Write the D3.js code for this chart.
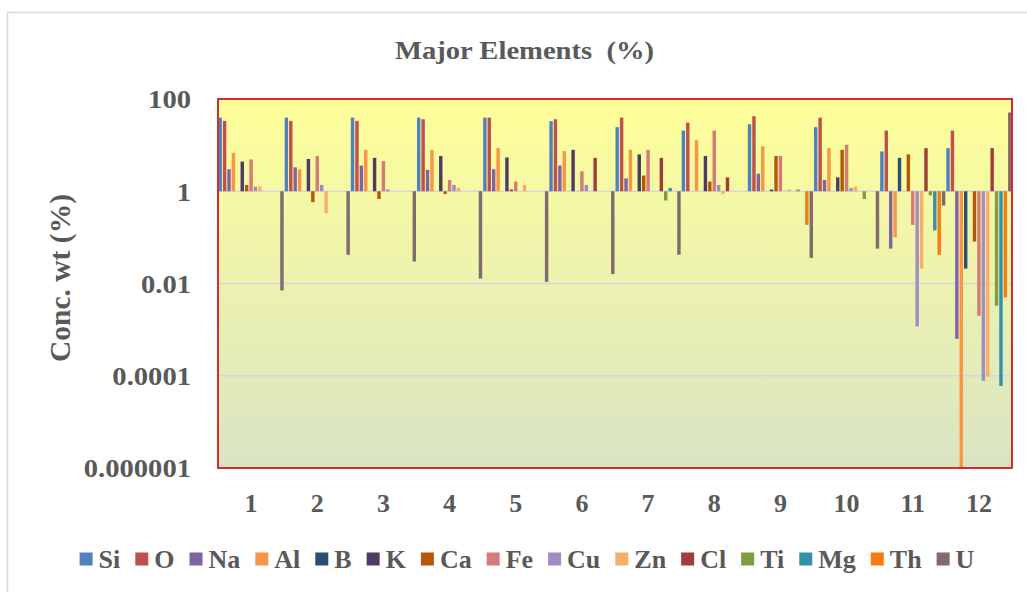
<!DOCTYPE html>
<html>
<head>
<meta charset="utf-8">
<script src="https://cdn.jsdelivr.net/npm/d3@7"></script>
<style>
  body { margin: 0; background: #fff; }
  svg { display: block; }
  text { font-family: "Liberation Serif", "Times New Roman", serif; font-weight: bold; fill: #595959; }
</style>
</head>
<body>
<svg id="chart" width="1027" height="592"></svg>
<script>
// Sample numbers on the category axis
const samples = ["1", "2", "3", "4", "5", "6", "7", "8", "9", "10", "11", "12"];

// Element names (series) and their fill colours
const elements = ["Si", "O", "Na", "Al", "B", "K", "Ca", "Fe", "Cu", "Zn", "Cl", "Ti", "Mg", "Th", "U"];
const colors = ["#4F81BD", "#C0504D", "#8064A2", "#F79646", "#2C4D75", "#4D3B62", "#B65708",
                "#D47A78", "#A08CC2", "#F9AD6A", "#A03C3B", "#7F9D41", "#3590AA", "#F57B12", "#7F6A6E"];

// Concentrations, wt %, per sample (null = not reported)
const Si = [39.5, 39.5, 39.5, 39.5, 39.5, 33.0, 24.5, 20.7, 28.4, 24.5, 7.3, 8.6];
const O  = [33.5, 33.5, 33.5, 36.4, 39.5, 36.4, 39.5, 30.8, 42.3, 39.5, 20.7, 20.7];
const Na = [3.0, 3.3, 3.6, 2.9, 3.0, 3.6, 1.9, null, 2.4, 1.76, 0.057, 0.00063];
const Al = [6.8, 3.0, 7.9, 7.9, 8.6, 7.4, 7.9, 12.8, 9.4, 8.6, 0.10, 0.000001];
const B  = [null, null, null, null, null, null, null, null, null, null, 5.3, 0.021];
const K  = [4.4, 5.0, 5.3, 5.8, 5.4, 7.9, 6.3, 5.8, 1.09, 2.0, null, null];
const Ca = [1.37, 0.58, 0.68, 0.875, 1.10, null, 2.2, 1.62, 5.8, 7.9, 6.3, 0.081];
const Fe = [4.9, 5.8, 4.5, 1.76, 1.62, 2.7, 7.9, 20.7, 5.8, 10.2, 0.187, 0.002];
const Cu = [1.26, 1.37, 1.09, 1.37, null, 1.37, null, 1.37, null, 1.18, 0.00117, 0.000078];
const Zn = [1.26, 0.335, null, 1.18, 1.37, null, null, 0.875, 1.09, 1.26, 0.021, 0.000096];
const Cl = [null, null, null, null, null, 5.3, 5.3, 2.0, null, null, 8.6, 8.6];
const Ti = [null, null, null, null, null, null, 0.63, null, 1.09, 0.68, 0.81, 0.0033];
const Mg = [null, null, null, null, null, null, 1.18, null, null, null, 0.142, 0.00006];
const Th = [null, null, null, null, null, null, null, null, 0.187, null, 0.042, 0.005];
const U  = [0.0071, 0.042, 0.030, 0.0128, 0.0109, 0.016, 0.042, null, 0.036, 0.057, 0.49, 51];

// Value axis ticks
const yTickValues = [100, 1, 0.01, 0.0001, 0.000001];
const yTickLabels = ["100", "1", "0.01", "0.0001", "0.000001"];
const gridValues = [1, 0.01, 0.0001];

const seriesValues = [Si, O, Na, Al, B, K, Ca, Fe, Cu, Zn, Cl, Ti, Mg, Th, U];
const series = elements.map((name, i) => ({ name, color: colors[i], values: seriesValues[i] }));

const svg = d3.select("#chart");
const SX = 1.1; // horizontal stretch for the wide-set labels
const plot = { left: 218, right: 1012, top: 99, bottom: 468 };

// Chart frame
svg.append("rect")
  .attr("x", 7.5).attr("y", 12.5).attr("width", 1060).attr("height", 620)
  .attr("fill", "#fff").attr("stroke", "#D9D9D9").attr("stroke-width", 1.5);

// Plot background gradient
const defs = svg.append("defs");
const grad = defs.append("linearGradient").attr("id", "plotFill")
  .attr("x1", 0).attr("y1", 0).attr("x2", 0).attr("y2", 1);
grad.append("stop").attr("offset", "0%").attr("stop-color", "#FFFF99");
grad.append("stop").attr("offset", "100%").attr("stop-color", "#D9E4C4");

svg.append("rect")
  .attr("x", plot.left).attr("y", plot.top)
  .attr("width", plot.right - plot.left).attr("height", plot.bottom - plot.top)
  .attr("fill", "url(#plotFill)");

// Scales
const x0 = d3.scaleBand().domain(samples).range([plot.left, plot.right]).padding(0);
const x1 = d3.scaleBand().domain(elements).range([0, x0.bandwidth()]).padding(0);
const y = d3.scaleLog().domain([1e-6, 100]).range([plot.bottom, plot.top]);

// Gridlines
svg.append("g").selectAll("line").data(gridValues).join("line")
  .attr("x1", plot.left).attr("x2", plot.right)
  .attr("y1", d => y(d)).attr("y2", d => y(d))
  .attr("stroke", "#D6D6DC").attr("stroke-width", 1.5);

// Bars grow up or down from the value 1
const clip = defs.append("clipPath").attr("id", "plotClip");
clip.append("rect").attr("x", plot.left).attr("y", plot.top - 2)
  .attr("width", plot.right - plot.left + 1).attr("height", plot.bottom - plot.top + 4);

const barsG = svg.append("g").attr("clip-path", "url(#plotClip)");
series.forEach(s => {
  const pts = samples.map((g, i) => ({ g, v: s.values[i] })).filter(d => d.v != null);
  barsG.append("g").attr("fill", s.color)
    .selectAll("rect").data(pts).join("rect")
    .attr("x", d => x0(d.g) + x1(s.name) + 0.5)
    .attr("width", x1.bandwidth() - 1)
    .attr("y", d => Math.min(y(d.v), y(1)))
    .attr("height", d => Math.max(1, Math.abs(y(d.v) - y(1))));
});

// Plot border
svg.append("rect")
  .attr("x", plot.left).attr("y", plot.top)
  .attr("width", plot.right - plot.left).attr("height", plot.bottom - plot.top)
  .attr("fill", "none").attr("stroke", "#D92B2B").attr("stroke-width", 2);

// Y axis
const yAxis = svg.append("g").attr("transform", "translate(191,0)")
  .call(d3.axisLeft(y).tickValues(yTickValues).tickFormat((d, i) => yTickLabels[i]).tickSize(0).tickPadding(0));
yAxis.select(".domain").remove();
yAxis.selectAll("text")
  .attr("x", 0).attr("dy", "0.34em")
  .attr("transform", `scale(${SX},1)`)
  .style("font-size", "26px").attr("fill", "#595959");

// X axis
const xAxis = svg.append("g").attr("transform", "translate(0,494)")
  .call(d3.axisBottom(x0).tickSize(0).tickPadding(0));
xAxis.select(".domain").remove();
xAxis.selectAll("text")
  .attr("y", 0).attr("dy", "0.71em")
  .style("font-size", "26px").attr("fill", "#595959");

// Title
svg.append("text")
  .attr("transform", `translate(524.5,59) scale(${SX},1)`)
  .attr("text-anchor", "middle")
  .style("font-size", "26px").style("white-space", "pre")
  .text("Major Elements  (%)");

// Axis title
svg.append("text")
  .attr("transform", "translate(70,278) rotate(-90)")
  .attr("text-anchor", "middle")
  .style("font-size", "29.5px")
  .text("Conc. wt (%)");

// Legend
const legend = svg.append("g");
let cx = 0;
series.forEach(s => {
  const g = legend.append("g").attr("transform", `translate(${cx},0)`);
  g.append("rect").attr("x", 0).attr("y", -6.5).attr("width", 13).attr("height", 13).attr("fill", s.color);
  const t = g.append("text").attr("x", 19).attr("y", 9)
    .style("font-size", "26px").text(s.name);
  cx += 19 + t.node().getComputedTextLength() + 15;
});
const legendWidth = cx - 15;
legend.attr("transform", `translate(${527 - legendWidth / 2},559)`);
</script>
</body>
</html>
